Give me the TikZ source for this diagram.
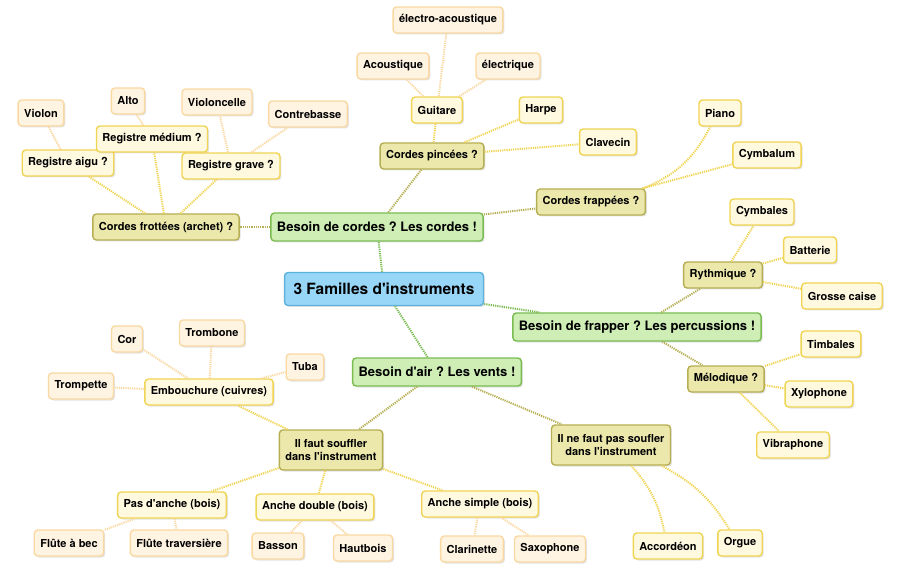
\documentclass[tikz,border=0pt]{standalone}
\usepackage{fontspec}
\setmainfont{TeX Gyre Heros}[Ligatures=TeXOff]
\usetikzlibrary{shadows}
\frenchspacing
\definecolor{rootfill}{RGB}{152,214,248}
\definecolor{rootline}{RGB}{92,178,218}
\definecolor{mainfill}{RGB}{206,238,182}
\definecolor{mainline}{RGB}{122,188,82}
\definecolor{subfill}{RGB}{236,232,172}
\definecolor{subline}{RGB}{182,174,82}
\definecolor{leaffill}{RGB}{255,249,224}
\definecolor{leafline}{RGB}{240,212,84}
\definecolor{tipfill}{RGB}{255,244,226}
\definecolor{tipline}{RGB}{250,216,162}

\begin{document}
\begin{tikzpicture}[
		x=1pt, y=1pt,
		basebox/.style={draw, rounded corners=3.5pt, line width=1.4pt, align=center,
			font=\bfseries\fontsize{11}{13}\selectfont, minimum height=26pt, inner xsep=6pt,
			drop shadow={opacity=0.22, shadow xshift=1.5pt, shadow yshift=-1.5pt}},
		rootbox/.style={basebox, fill=rootfill, draw=rootline, minimum height=33pt, inner xsep=9pt,
			font=\bfseries\fontsize{15.5}{18}\selectfont},
		mainbox/.style={basebox, fill=mainfill, draw=mainline, minimum height=28pt,
			font=\bfseries\fontsize{13}{15}\selectfont},
		subbox/.style={basebox, fill=subfill, draw=subline},
		leafbox/.style={basebox, fill=leaffill, draw=leafline},
		tipbox/.style={basebox, fill=tipfill, draw=tipline},
		link/.style={line width=2pt, dash pattern=on 1.2pt off 1pt, draw=#1},
	]
		\useasboundingbox (0,0) rectangle (903,-572);

		\node (root) [rootbox] at (384,-289) {3 Familles d'instruments};
		\node (cordes) [mainbox] at (377,-227) {Besoin de cordes ? Les cordes !};
		\node (frapper) [mainbox] at (637,-327) {Besoin de frapper ? Les percussions !};
		\node (air) [mainbox] at (437,-372) {Besoin d'air ? Les vents !};

		\node (frottees) [subbox] at (166,-227) {Cordes frottées (archet) ?};
		\node (pincees) [subbox] at (432,-156) {Cordes pincées ?};
		\node (frappees) [subbox] at (591,-202) {Cordes frappées ?};
		\node (rythm) [subbox] at (723,-275) {Rythmique ?};
		\node (melod) [subbox] at (726,-379) {Mélodique ?};
		\node (souffler) [subbox, minimum height=40pt] at (331,-450) {Il faut souffler\\dans l'instrument};
		\node (nosouffler) [subbox, minimum height=40pt] at (611,-445) {Il ne faut pas soufler\\dans l'instrument};

		\node (aigu) [leafbox] at (68,-163) {Registre aigu ?};
		\node (medium) [leafbox] at (152,-139) {Registre médium ?};
		\node (grave) [leafbox] at (231,-166) {Registre grave ?};
		\node (guitare) [leafbox] at (437,-110) {Guitare};
		\node (harpe) [leafbox] at (541,-110) {Harpe};
		\node (clavecin) [leafbox] at (608,-142) {Clavecin};
		\node (piano) [leafbox] at (720,-113) {Piano};
		\node (cymbalum) [leafbox] at (767,-155) {Cymbalum};
		\node (cymbales) [leafbox] at (762,-212) {Cymbales};
		\node (batterie) [leafbox] at (810,-250) {Batterie};
		\node (grosse) [leafbox] at (842,-296) {Grosse caise};
		\node (timbales) [leafbox] at (831,-344) {Timbales};
		\node (xylo) [leafbox] at (819,-394) {Xylophone};
		\node (vibra) [leafbox] at (793,-445) {Vibraphone};
		\node (embouchure) [leafbox] at (209,-392) {Embouchure (cuivres)};
		\node (pasanche) [leafbox] at (172,-505) {Pas d'anche (bois)};
		\node (double) [leafbox] at (315,-507) {Anche double (bois)};
		\node (simple) [leafbox] at (480,-504) {Anche simple (bois)};
		\node (accordeon) [leafbox] at (668,-546) {Accordéon};
		\node (orgue) [leafbox] at (740,-543) {Orgue};

		\node (violon) [tipbox] at (41,-113) {Violon};
		\node (alto) [tipbox] at (128,-101) {Alto};
		\node (cello) [tipbox] at (217,-102) {Violoncelle};
		\node (contrebasse) [tipbox] at (308,-114) {Contrebasse};
		\node (acoustique) [tipbox] at (393,-66) {Acoustique};
		\node (electrique) [tipbox] at (508,-66) {électrique};
		\node (electroac) [tipbox] at (448,-20) {électro-acoustique};
		\node (cor) [tipbox] at (127,-339) {Cor};
		\node (trombone) [tipbox] at (212,-333) {Trombone};
		\node (tuba) [tipbox] at (305,-367) {Tuba};
		\node (trompette) [tipbox] at (81,-386) {Trompette};
		\node (flutebec) [tipbox] at (69,-543) {Flûte à bec};
		\node (flutetrav) [tipbox] at (179,-543) {Flûte traversière};
		\node (basson) [tipbox] at (278,-546) {Basson};
		\node (hautbois) [tipbox] at (363,-548) {Hautbois};
		\node (clarinette) [tipbox] at (472,-549) {Clarinette};
		\node (saxo) [tipbox] at (550,-549) {Saxophone};

		% familles
		\draw[link=mainline] (root) -- (cordes);
		\draw[link=mainline] (root) -- (frapper);
		\draw[link=mainline] (root) -- (air);

		% sous-familles
		\draw[link=subline] (cordes) -- (frottees);
		\draw[link=subline] (cordes) -- (pincees);
		\draw[link=subline] (cordes) -- (frappees);
		\draw[link=subline] (frapper) -- (rythm);
		\draw[link=subline] (frapper) -- (melod);
		\draw[link=subline] (air) -- (souffler);
		\draw[link=subline] (air) -- (nosouffler);

		% instruments
		\draw[link=leafline] (frottees) -- (aigu);
		\draw[link=leafline] (frottees) -- (medium);
		\draw[link=leafline] (frottees) -- (grave);
		\draw[link=leafline] (pincees) -- (guitare);
		\draw[link=leafline] (pincees) -- (harpe);
		\draw[link=leafline] (pincees) -- (clavecin);
		\draw[link=leafline] (frappees) to[bend right=20] (piano);
		\draw[link=leafline] (frappees) -- (cymbalum);
		\draw[link=leafline] (rythm) -- (cymbales);
		\draw[link=leafline] (rythm) -- (batterie);
		\draw[link=leafline] (rythm) -- (grosse);
		\draw[link=leafline] (melod) -- (timbales);
		\draw[link=leafline] (melod) -- (xylo);
		\draw[link=leafline] (melod) -- (vibra);
		\draw[link=leafline] (souffler) -- (embouchure);
		\draw[link=leafline] (souffler) -- (pasanche);
		\draw[link=leafline] (souffler) -- (double);
		\draw[link=leafline] (souffler) -- (simple);
		\draw[link=leafline] (nosouffler) to[bend left=15] (accordeon);
		\draw[link=leafline] (nosouffler) to[bend left=15] (orgue);

		% details
		\draw[link=tipline] (aigu) -- (violon);
		\draw[link=tipline] (medium) -- (alto);
		\draw[link=tipline] (grave) -- (cello);
		\draw[link=tipline] (grave) -- (contrebasse);
		\draw[link=tipline] (guitare) -- (acoustique);
		\draw[link=tipline] (guitare) -- (electrique);
		\draw[link=tipline] (guitare) -- (electroac);
		\draw[link=tipline] (embouchure) -- (cor);
		\draw[link=tipline] (embouchure) -- (trombone);
		\draw[link=tipline] (embouchure) -- (tuba);
		\draw[link=tipline] (embouchure) -- (trompette);
		\draw[link=tipline] (pasanche) -- (flutebec);
		\draw[link=tipline] (pasanche) -- (flutetrav);
		\draw[link=tipline] (double) -- (basson);
		\draw[link=tipline] (double) -- (hautbois);
		\draw[link=tipline] (simple) -- (clarinette);
		\draw[link=tipline] (simple) -- (saxo);
	\end{tikzpicture}
\end{document}
